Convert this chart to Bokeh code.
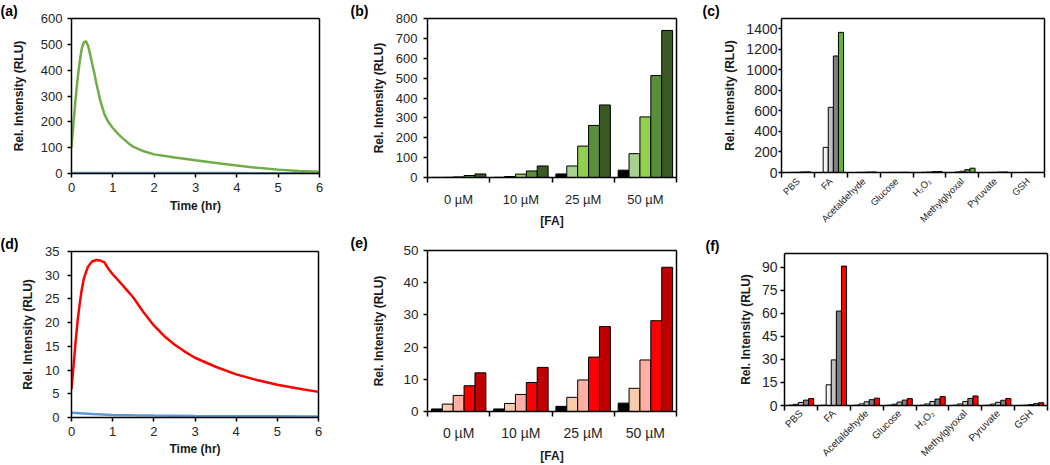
import math
from bokeh.plotting import figure
from bokeh.layouts import row, column
from bokeh.models import FixedTicker, Range1d, LinearAxis, Title
from bokeh.embed import file_html
from bokeh.resources import INLINE

FONT = "Liberation Sans"

# ---------------- data ----------------
# (a) time course, green probe
a_time = [0, 0.05, 0.1, 0.15, 0.2, 0.25, 0.3, 0.35, 0.4, 0.45, 0.5, 0.55, 0.6, 0.7, 0.8, 0.9,
          1.0, 1.1, 1.2, 1.3, 1.4, 1.5, 1.75, 2.0, 2.5, 3.0, 3.5, 4.0, 4.5, 5.0, 5.5, 6.0]
a_fa = [100, 200, 290, 370, 435, 485, 508, 512, 495, 462, 425, 390, 350, 280, 228, 197,
        176, 158, 142, 128, 114, 103, 86, 74, 62, 51, 41, 31, 22, 15, 10, 7]
a_blank_time = [0, 1, 2, 3, 4, 5, 6]
a_blank = [2, 2, 2, 1.5, 1.5, 1, 1]

# (d) time course, red probe
d_time = [0, 0.05, 0.1, 0.15, 0.2, 0.25, 0.3, 0.4, 0.5, 0.6, 0.7, 0.8, 0.9, 1.0, 1.25, 1.5,
          1.75, 2.0, 2.25, 2.5, 2.75, 3.0, 3.5, 4.0, 4.5, 5.0, 5.5, 6.0]
d_fa = [6, 11, 16, 20.5, 24, 27, 29.3, 31.8, 32.9, 33.2, 33.1, 32.7, 31.3, 30.2, 27.8, 25.3,
        22.2, 19.4, 17.2, 15.4, 13.9, 12.6, 10.7, 9.1, 7.9, 6.9, 6.1, 5.4]
d_blank_time = [0, 0.5, 1, 1.5, 2, 3, 4, 5, 6]
d_blank = [1.0, 0.75, 0.55, 0.45, 0.4, 0.32, 0.28, 0.25, 0.22]

# (b) / (e) FA concentration groups
fa_labels = ["0 µM", "10 µM", "25 µM", "50 µM"]
b_s1 = [0.5, 1, 18, 37]
b_s2 = [1, 5, 58, 120]
b_s3 = [3, 17, 158, 305]
b_s4 = [10, 33, 262, 513]
b_s5 = [18, 58, 365, 740]

e_s1 = [0.8, 0.8, 1.6, 2.6]
e_s2 = [2.3, 2.5, 4.4, 7.2]
e_s3 = [5.0, 5.3, 9.8, 16.0]
e_s4 = [8.0, 9.0, 16.9, 28.2]
e_s5 = [12.0, 13.7, 26.4, 44.8]

# (c) / (f) selectivity
analytes = ["PBS", "FA", "Acetaldehyde", "Glucose", "H₂O₂", "Methylglyoxal", "Pyruvate", "GSH"]
c_s1 = [0, 0, 0, 0, 0, 0, 0, 0]
c_s2 = [1, 245, 1, 1, 2, 5, 1, 0]
c_s3 = [2, 635, 2, 1, 4, 12, 2, 1]
c_s4 = [5, 1135, 4, 2, 8, 28, 4, 1]
c_s5 = [6, 1365, 5, 2, 10, 42, 5, 1]

f_s1 = [0.2, 0.2, 0.2, 0.2, 0.2, 0.2, 0.2, 0.1]
f_s2 = [0.8, 13.5, 1.0, 0.8, 1.0, 1.0, 0.9, 0.2]
f_s3 = [2.0, 29.7, 2.4, 2.2, 2.6, 2.6, 2.1, 0.6]
f_s4 = [3.5, 61.5, 3.8, 3.5, 4.2, 4.6, 3.4, 1.2]
f_s5 = [4.5, 90.8, 4.8, 4.5, 5.8, 6.2, 4.6, 1.8]

b_colors = ["#000000", "#a9d18e", "#92d050", "#5a8f3a", "#3a5a24"]
e_colors = ["#000000", "#f8cbad", "#ffb0a2", "#ff0000", "#c00000"]
c_colors = ["#000000", "#f2f2f2", "#bfbfbf", "#7f7f7f", "#62b33b"]
f_colors = ["#000000", "#f2f2f2", "#bfbfbf", "#7f7f7f", "#ff0000"]

TICK_COLOR = "#262626"
TITLE_COLOR = "#1a1a1a"


def make_fig(w, h, xr, yr, bl, br, bt, bb, label, label_offset):
    p = figure(width=w, height=h, x_range=Range1d(*xr), y_range=Range1d(*yr),
               output_backend="svg", toolbar_location=None,
               min_border_left=bl, min_border_right=br, min_border_top=bt, min_border_bottom=bb)
    p.frame_align = False
    p.title = Title(text=label, align="left", offset=label_offset, standoff=0,
                    text_font=FONT, text_font_style="bold", text_font_size="14px",
                    text_color="black")
    p.outline_line_color = None
    p.xgrid.visible = False
    p.ygrid.visible = False
    p.background_fill_color = "white"
    p.border_fill_color = "white"
    xax, yax = p.below[0], p.left[0]
    for ax in (xax, yax):
        ax.axis_line_color = "black"
        ax.axis_line_width = 1.5
        ax.major_tick_line_color = "black"
        ax.major_tick_line_width = 1.5
        ax.major_tick_in = 0
        ax.major_tick_out = 4
        ax.minor_tick_line_color = None
        ax.major_label_text_font = FONT
        ax.major_label_text_color = TICK_COLOR
        ax.axis_label_text_font = FONT
        ax.axis_label_text_font_style = "bold"
        ax.axis_label_text_font_size = "12px"
        ax.axis_label_text_color = TITLE_COLOR
    # frame box: bare axes on top and right (one invisible tick so the line is drawn)
    for side, rng in (("above", xr), ("right", yr)):
        box = LinearAxis(ticker=FixedTicker(ticks=[rng[0]]), axis_line_color="black",
                         axis_line_width=1.5, major_tick_line_color=None,
                         minor_tick_line_color=None, major_label_text_font_size="0px",
                         major_label_text_color=None, major_label_standoff=0,
                         major_tick_out=0, major_tick_in=0)
        p.add_layout(box, side)
    return p, xax, yax


def y_axis(ax, ticks, size, standoff, title_standoff):
    ax.ticker = FixedTicker(ticks=ticks)
    ax.major_label_text_font_size = size
    ax.major_label_standoff = standoff
    ax.axis_label = "Rel. Intensity (RLU)"
    ax.axis_label_standoff = title_standoff


def time_axis(ax, size, standoff, title_standoff):
    ax.ticker = FixedTicker(ticks=[0, 1, 2, 3, 4, 5, 6])
    ax.major_label_text_font_size = size
    ax.major_label_standoff = standoff
    ax.axis_label = "Time (hr)"
    ax.axis_label_standoff = title_standoff


def cat_axis(ax, labels, size, standoff, orientation=None, title=None, title_standoff=5):
    n = len(labels)
    centers = [i + 0.5 for i in range(n)]
    ax.ticker = FixedTicker(ticks=centers, minor_ticks=list(range(n + 1)))
    ax.major_label_overrides = {c: lab for c, lab in zip(centers, labels)}
    ax.major_tick_out = 0
    ax.minor_tick_out = 5
    ax.minor_tick_in = 0
    ax.minor_tick_line_color = "black"
    ax.minor_tick_line_width = 1.5
    ax.major_label_text_font_size = size
    ax.major_label_standoff = standoff
    if orientation is not None:
        ax.major_label_orientation = orientation
    if title:
        ax.axis_label = title
        ax.axis_label_standoff = title_standoff


def grouped_bars(p, series, colors, bar_w):
    k = len(series)
    for j, (vals, col) in enumerate(zip(series, colors)):
        xs = [i + 0.5 + (j - (k - 1) / 2) * bar_w for i in range(len(vals))]
        p.vbar(x=xs, top=vals, bottom=0, width=bar_w, fill_color=col,
               line_color="black", line_width=1)


H1 = 230
H2 = 235

# ---------------- row 1 ----------------
pa, pa_x, pa_y = make_fig(350, H1, (0, 6), (0, 600), 71, 31, 15, 57, "(a)", -71)
pa.line(a_blank_time, a_blank, line_color="#5b9bd5", line_width=2.5)
pa.line(a_time, a_fa, line_color="#70ad47", line_width=2.5)
y_axis(pa_y, list(range(0, 601, 100)), "13px", 5, 12)
time_axis(pa_x, "13px", 5, 4)

pb, pb_x, pb_y = make_fig(350, H1, (0, 4), (0, 800), 77, 24, 15, 52, "(b)", -77)
grouped_bars(pb, [b_s1, b_s2, b_s3, b_s4, b_s5], b_colors, 0.175)
y_axis(pb_y, list(range(0, 801, 100)), "13px", 6, 7)
cat_axis(pb_x, fa_labels, "13px", 9, title="[FA]", title_standoff=4)

pc, pc_x, pc_y = make_fig(350, H1, (0, 8), (0, 1500), 81, 6, 15, 56, "(c)", -79)
grouped_bars(pc, [c_s1, c_s2, c_s3, c_s4, c_s5], c_colors, 0.155)
y_axis(pc_y, list(range(0, 1401, 200)), "14px", 1, 6)
pc_y.major_tick_out = 3
cat_axis(pc_x, analytes, "9.5px", 2, orientation=math.pi / 4)

# ---------------- row 2 ----------------
pd_, pd_x, pd_y = make_fig(350, H2, (0, 6), (0, 35), 71, 32, 21, 48, "(d)", -71)
pd_.line(d_blank_time, d_blank, line_color="#5b9bd5", line_width=2.5)
pd_.line(d_time, d_fa, line_color="#ff0000", line_width=2.5)
y_axis(pd_y, list(range(0, 36, 5)), "13px", 8, 7)
time_axis(pd_x, "13px", 5, 3)

pe, pe_x, pe_y = make_fig(350, H2, (0, 4), (0, 50), 77, 24, 20, 52, "(e)", -77)
grouped_bars(pe, [e_s1, e_s2, e_s3, e_s4, e_s5], e_colors, 0.175)
y_axis(pe_y, list(range(0, 51, 10)), "13.5px", 5, 14)
cat_axis(pe_x, fa_labels, "14px", 8, title="[FA]", title_standoff=5)

pf, pf_x, pf_y = make_fig(350, H2, (0, 8), (0, 99), 84, 3, 23, 56, "(f)", -79)
grouped_bars(pf, [f_s1, f_s2, f_s3, f_s4, f_s5], f_colors, 0.155)
y_axis(pf_y, list(range(0, 91, 15)), "14px", 3, 6)
cat_axis(pf_x, analytes, "10px", 1, orientation=math.pi / 4)

layout = column(row(pa, pb, pc, spacing=0), row(pd_, pe, pf, spacing=0), spacing=0)

open("out.html", "w").write(file_html(layout, INLINE))
